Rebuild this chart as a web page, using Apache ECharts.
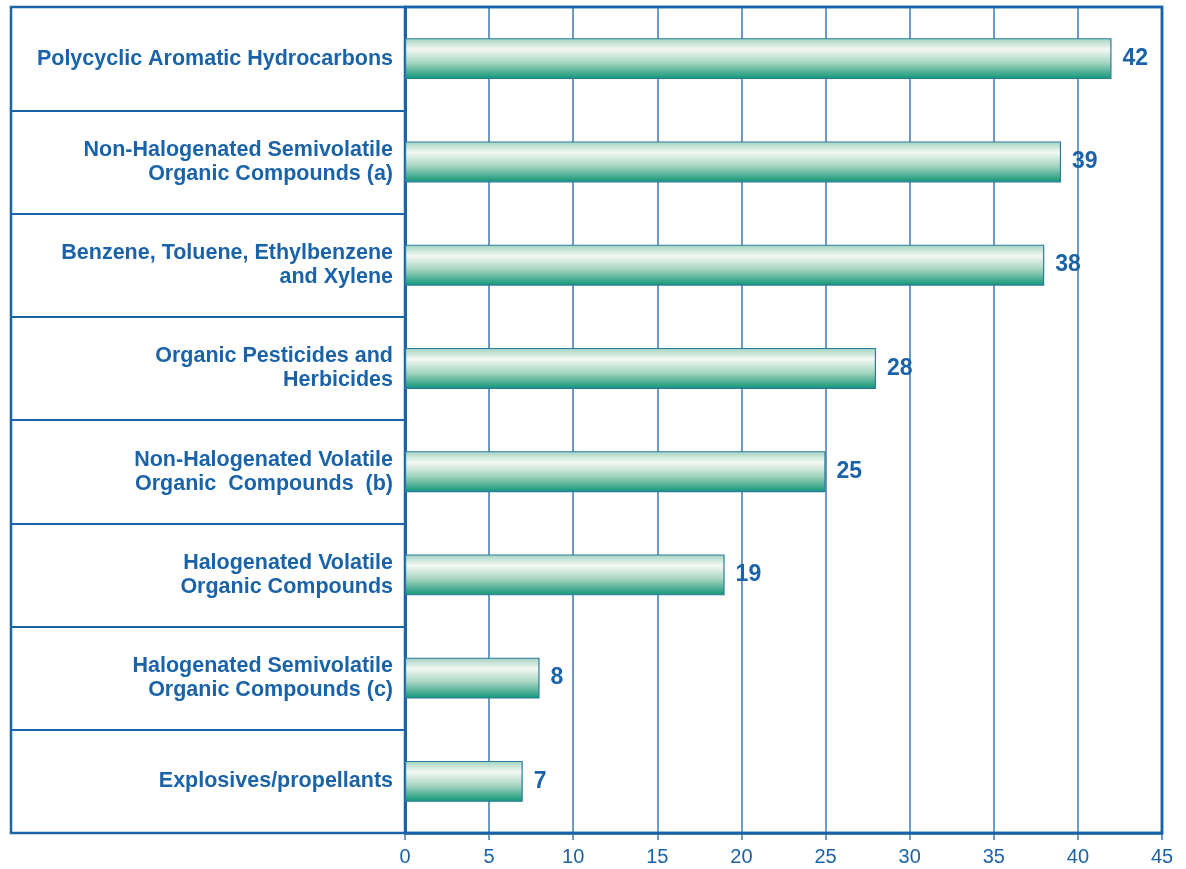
<!DOCTYPE html>
<html>
<head>
<meta charset="utf-8">
<script src="https://cdn.jsdelivr.net/npm/echarts@6/dist/echarts.min.js"></script>
<style>
  html, body { margin: 0; padding: 0; background: #fff; }
  #chart { width: 1186px; height: 869px; }
</style>
</head>
<body>
<div id="chart"></div>
<script>
// categories top to bottom
const categories = [
  "Polycyclic Aromatic Hydrocarbons",
  "Non-Halogenated Semivolatile\nOrganic Compounds (a)",
  "Benzene, Toluene, Ethylbenzene\nand Xylene",
  "Organic Pesticides and\nHerbicides",
  "Non-Halogenated Volatile\nOrganic  Compounds  (b)",
  "Halogenated Volatile\nOrganic Compounds",
  "Halogenated Semivolatile\nOrganic Compounds (c)",
  "Explosives/propellants"
];
const counts = [42, 39, 38, 28, 25, 19, 8, 7];
const xTicks = { min: 0, max: 45, step: 5 };

const blue = "#1b63a9";
const lineBlue = "#3c78b2";
const font = "Liberation Sans, Arial, sans-serif";

const chart = echarts.init(document.getElementById("chart"));

chart.setOption({
  animation: false,
  backgroundColor: "#fff",
  textStyle: { fontFamily: font },
  grid: {
    left: 405, right: 24, top: 7, bottom: 36,
    show: true, borderColor: blue, borderWidth: 2.5
  },
  graphic: [{
    type: "rect",
    shape: { x: 11, y: 7, width: 1151, height: 826 },
    style: { fill: null, stroke: blue, lineWidth: 2.5 },
    silent: true, z: 10
  }],
  xAxis: {
    type: "value",
    min: xTicks.min, max: xTicks.max, interval: xTicks.step,
    axisLine: { show: true, lineStyle: { color: blue, width: 2.5 } },
    axisTick: { show: true, length: 7, lineStyle: { color: lineBlue, width: 1.5 } },
    axisLabel: { color: blue, fontSize: 20, fontFamily: font, margin: 14 },
    splitLine: { show: true, lineStyle: { color: lineBlue, width: 1.5 } }
  },
  yAxis: {
    type: "category",
    data: categories,
    inverse: true,
    axisLine: { show: true, lineStyle: { color: blue, width: 3 } },
    axisTick: { show: true, length: 395, lineStyle: { color: blue, width: 2 } },
    axisLabel: {
      color: blue, fontSize: 21.5, fontWeight: "bold", fontFamily: font,
      lineHeight: 24, margin: 12, align: "right"
    }
  },
  series: [{
    type: "bar",
    data: counts,
    barWidth: 41,
    itemStyle: {
      borderColor: "#2d7ba0",
      borderWidth: 1.2,
      color: new echarts.graphic.LinearGradient(0, 0, 0, 1, [
        { offset: 0, color: "#9fd2bd" },
        { offset: 0.27, color: "#f4f8f4" },
        { offset: 0.6, color: "#a6d5c1" },
        { offset: 1, color: "#0d9575" }
      ])
    },
    label: {
      show: true, position: "right", distance: 11,
      color: blue, fontSize: 23, fontWeight: "bold", fontFamily: font
    }
  }]
});
</script>
</body>
</html>
